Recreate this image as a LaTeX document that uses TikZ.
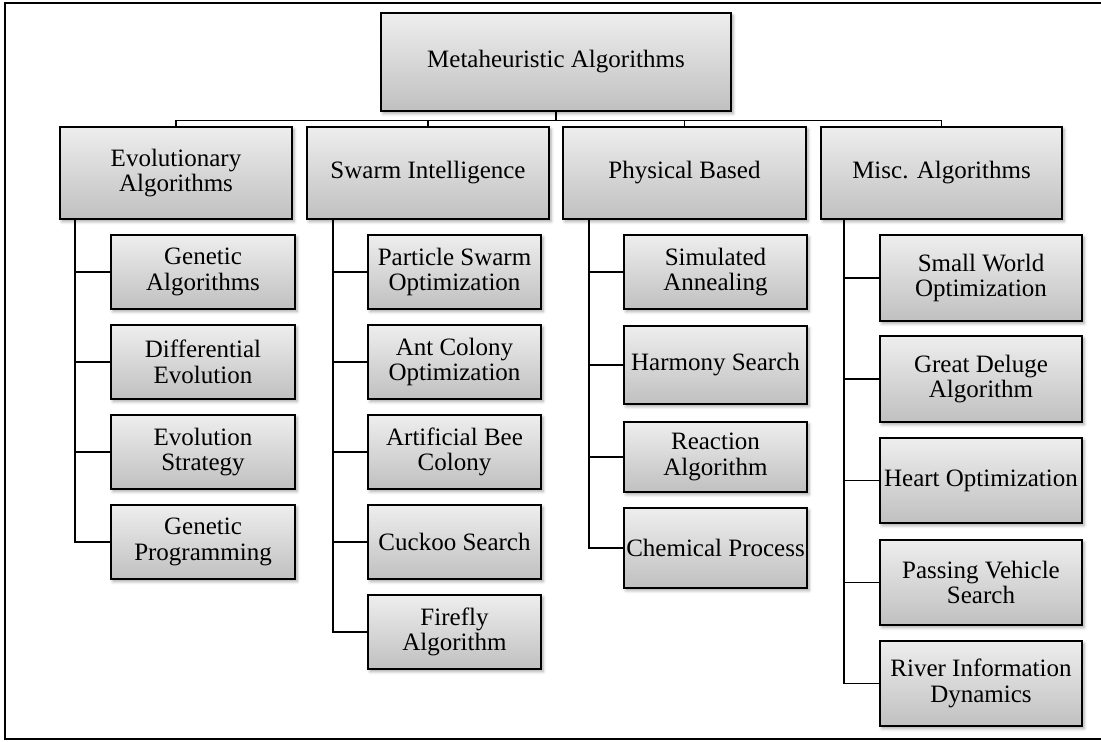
\documentclass[tikz,border=0pt]{standalone}
\usepackage{fontspec}
\setmainfont{Liberation Serif}
\usetikzlibrary{shadows.blur}
\definecolor{boxtop}{RGB}{238,238,238}
\definecolor{boxbot}{RGB}{192,192,192}
\tikzset{
  box/.style={rectangle, draw=black, line width=1.7pt, inner sep=0pt,
    top color=boxtop, bottom color=boxbot, align=center,
    font=\fontsize{25}{25.5}\selectfont,
    blur shadow={shadow xshift=2pt, shadow yshift=-2.5pt, shadow blur radius=3pt, shadow opacity=35}},
  link/.style={draw=black, line width=1.7pt},
  frame/.style={draw=black, line width=1.8pt}
}
% \bx{name}{x1}{y1}{x2}{y2}{text}
\newcommand\bx[6]{%
  \node[box, minimum width={(#4-#2)*1pt}, minimum height={(#5-#3)*1pt}]
    (#1) at ({(#2+#4)/2},{(#3+#5)/2}) {#6};}
\begin{document}
\begin{tikzpicture}[x=1pt,y=-1pt]
\useasboundingbox (0,0) rectangle (1101,742);
\draw[frame] (1102,3) -- (5,3) -- (5,739) -- (1102,739);

% root and category boxes
\bx{root}{381}{13}{731}{111}{Metaheuristic Algorithms}
\bx{evo}{60}{127}{292}{219}{Evolutionary\\Algorithms}
\bx{swarm}{307}{127}{549}{219}{Swarm Intelligence}
\bx{phys}{563}{127}{806}{219}{Physical Based}
\bx{misc}{821}{127}{1062}{219}{Misc. Algorithms}

% evolutionary algorithms
\bx{ga}{111}{235}{295}{309}{Genetic\\Algorithms}
\bx{de}{111}{325}{295}{399}{Differential\\Evolution}
\bx{es}{111}{415}{295}{489}{Evolution\\Strategy}
\bx{gp}{111}{505}{295}{579}{Genetic\\Programming}

% swarm intelligence
\bx{pso}{368}{235}{541}{309}{Particle Swarm\\Optimization}
\bx{aco}{368}{325}{541}{399}{Ant Colony\\Optimization}
\bx{abc}{368}{415}{541}{489}{Artificial Bee\\Colony}
\bx{cs}{368}{505}{541}{579}{Cuckoo Search}
\bx{fa}{368}{595}{541}{669}{Firefly\\Algorithm}

% physical based
\bx{sa}{624}{235}{807}{309}{Simulated\\Annealing}
\bx{hs}{624}{326}{807}{404}{Harmony Search}
\bx{ra}{624}{422}{807}{492}{Reaction\\Algorithm}
\bx{cp}{624}{508}{807}{588}{Chemical Process}

% miscellaneous
\bx{sw}{880}{235}{1082}{321}{Small World\\Optimization}
\bx{gd}{880}{336}{1082}{422}{Great Deluge\\Algorithm}
\bx{ho}{880}{438}{1082}{523}{Heart Optimization}
\bx{pv}{880}{540}{1082}{625}{Passing Vehicle\\Search}
\bx{rid}{880}{641}{1082}{726}{River Information\\Dynamics}

% root to categories
\foreach \c in {evo,swarm,phys,misc}
  \draw[link] (root.south) -- ++(0,8.5) -| (\c.north);

% category trunks
\coordinate (t1) at (75,219);
\coordinate (t2) at (333,219);
\coordinate (t3) at (589,219);
\coordinate (t4) at (844,219);
\foreach \c in {ga,de,es,gp} \draw[link] (t1) |- (\c.west);
\foreach \c in {pso,aco,abc,cs,fa} \draw[link] (t2) |- (\c.west);
\foreach \c in {sa,hs,ra,cp} \draw[link] (t3) |- (\c.west);
\foreach \c in {sw,gd,ho,pv,rid} \draw[link] (t4) |- (\c.west);
\end{tikzpicture}
\end{document}
